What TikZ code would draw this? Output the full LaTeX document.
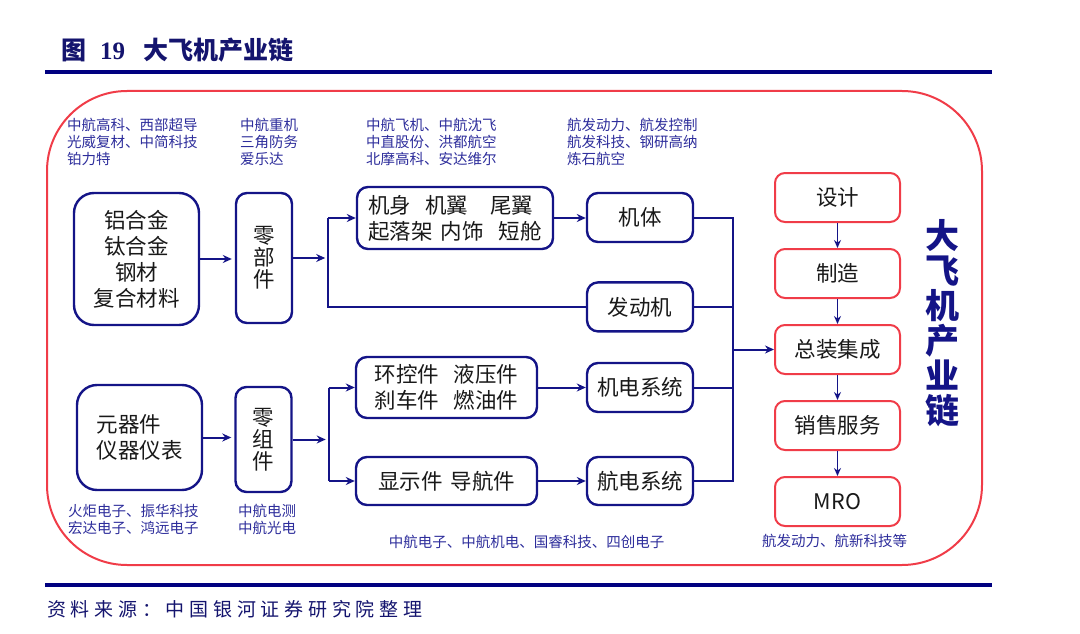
\documentclass[tikz,border=0pt]{standalone}
\usepackage{fontspec}
\setmainfont{Noto Sans CJK SC}
\newfontfamily\latinserif{Liberation Serif}
\newfontfamily\srcfont[LetterSpace=25]{Noto Sans CJK SC}
\usetikzlibrary{arrows.meta,positioning}
\definecolor{navyline}{RGB}{20,20,135}
\definecolor{rulenavy}{RGB}{0,0,128}
\definecolor{titleblue}{RGB}{20,20,110}
\definecolor{labelblue}{RGB}{45,45,155}
\definecolor{chainred}{RGB}{240,60,72}
\definecolor{boxtext}{RGB}{25,25,25}

\begin{document}
\begin{tikzpicture}[
    x=1pt, y=-1pt,
    node distance=25pt,
    bluebox/.style={
        rectangle,
        rounded corners=11pt,
        draw=navyline,
        line width=2.4pt,
        fill=white,
        align=center,
        text=boxtext,
        inner sep=0pt,
        font=\fontsize{21.5pt}{26pt}\selectfont
    },
    bigbox/.style={bluebox, rounded corners=20pt, minimum width=125pt},
    colbox/.style={bluebox, minimum width=56pt, font=\fontsize{21.5pt}{22pt}\selectfont},
    sysbox/.style={bluebox, minimum width=106pt, minimum height=49pt},
    redbox/.style={
        rectangle,
        rounded corners=10pt,
        draw=chainred,
        line width=2pt,
        fill=white,
        text=boxtext,
        minimum width=125pt,
        minimum height=49pt,
        inner sep=0pt,
        font=\fontsize{21.5pt}{26pt}\selectfont
    },
    company/.style={anchor=west, align=left, text=labelblue, inner sep=0pt,
        font=\fontsize{14.5pt}{17pt}\selectfont},
    wire/.style={draw=navyline, line width=2pt},
    arrow/.style={wire, -{Stealth[length=9pt,width=8pt]}},
    chainarrow/.style={draw=navyline, line width=1.6pt, -{Stealth[length=8pt,width=7pt]}}
]
\useasboundingbox (0,0) rectangle (1080,634);

% Header and footer
\node[anchor=west, inner sep=0pt, text=titleblue, font=\fontsize{25pt}{30pt}\selectfont\bfseries]
    (title) at (61,50) {图\hspace{14pt}{\latinserif 19}\hspace{18pt}大飞机产业链};
\draw[rulenavy, line width=4.5pt] (45,72) -- (992,72);
\draw[rulenavy, line width=4.5pt] (45,585) -- (992,585);
\node[anchor=west, inner sep=0pt, text=titleblue, font=\fontsize{19pt}{22pt}\srcfont]
    (source) at (47,609) {资料来源：中国银河证券研究院整理};

% Red frame
\draw[chainred, line width=2pt, rounded corners=80pt] (47,91) rectangle (982,565);

% Upper row: materials and structure
\node[bigbox, minimum height=132pt] (metal) at (136.5,259) {铝合金\\钛合金\\钢材\\复合材料};
\node[colbox, minimum height=130pt] (parts) at (264,258) {零\\部\\件};
\node[bluebox, minimum width=196pt, minimum height=62pt, align=left] (airframe) at (455,218)
    {机身\hspace{14pt}机翼\hspace{22pt}尾翼\\起落架\hspace{8pt}内饰\hspace{15pt}短舱};
\node[sysbox] (body) at (640,217.5) {机体};
\node[sysbox, below=38pt of body] (engine) {发动机};

% Lower row: electronics and systems
\node[bigbox, minimum height=105pt, align=left] (comp) at (139.5,437.5) {元器件\\仪器仪表};
\node[colbox, minimum height=105pt] (modules) at (263.5,439.5) {零\\组\\件};
\node[bluebox, minimum width=181pt, minimum height=61pt] (subsys) at (446.5,387.5)
    {环控件\hspace{15pt}液压件\\刹车件\hspace{15pt}燃油件};
\node[bluebox, minimum width=181pt, minimum height=48pt] (display) at (446.5,481) {显示件\hspace{8pt}导航件};
\node[sysbox] (mech) at (640,387.5) {机电系统};
\node[sysbox, minimum height=48pt] (avion) at (640,481) {航电系统};

% Right column: value chain
\node[redbox] (design) at (837.5,197.5) {设计};
\node[redbox, below=of design] (make) {制造};
\node[redbox, below=of make] (assy) {总装集成};
\node[redbox, below=of assy] (sales) {销售服务};
\node[redbox, below=of sales] (mro) {MRO};
\node[text=navyline, align=center, inner sep=0pt, font=\fontsize{34pt}{35pt}\selectfont\bfseries]
    (chain) at (942,323) {大\\飞\\机\\产\\业\\链};

% Company labels
\node[company] (suppA) at (67,142) {中航高科、西部超导\\光威复材、中简科技\\铂力特};
\node[company] (suppB) at (240,142) {中航重机\\三角防务\\爱乐达};
\node[company] (suppC) at (366,142) {中航飞机、中航沈飞\\中直股份、洪都航空\\北摩高科、安达维尔};
\node[company] (suppD) at (567,142) {航发动力、航发控制\\航发科技、钢研高纳\\炼石航空};
\node[company] (suppE) at (68,519.5) {火炬电子、振华科技\\宏达电子、鸿远电子};
\node[company] (suppF) at (238,519.5) {中航电测\\中航光电};
\node[company, anchor=center] (suppG) at (526.5,542) {中航电子、中航机电、国睿科技、四创电子};
\node[company, anchor=center] (suppH) at (834.5,541) {航发动力、航新科技等};

% Arrows
\coordinate (splitA) at ([xshift=35pt]parts.east);
\coordinate (splitB) at ([xshift=36pt]modules.east);
\coordinate (bus) at (733,0);

\draw[arrow, shorten >=3pt] (metal.east) -- (metal.east -| parts.west);
\draw[arrow, shorten >=3pt] (parts.east) -- (splitA);
\draw[wire] (splitA |- airframe.west) -- (splitA |- engine.west) -- (engine.west);
\draw[arrow] (splitA |- airframe.west) -- (airframe.west);
\draw[arrow] (airframe.east) -- (airframe.east -| body.west);

\draw[arrow, shorten >=3pt] (comp.east) -- (comp.east -| modules.west);
\draw[arrow, shorten >=3pt] (modules.east) -- (splitB);
\draw[wire] (splitB |- subsys.west) -- (splitB |- display.west);
\draw[arrow] (splitB |- subsys.west) -- (subsys.west);
\draw[arrow] (splitB |- display.west) -- (display.west);
\draw[arrow] (subsys.east) -- (mech.west);
\draw[arrow] (display.east) -- (avion.west);

\draw[wire] (body.east) -| (bus |- avion.east) -- (avion.east);
\draw[wire] (engine.east) -- (bus |- engine.east);
\draw[wire] (mech.east) -- (bus |- mech.east);
\draw[arrow] (bus |- assy.west) -- (assy.west);

\draw[chainarrow] (design) -- (make);
\draw[chainarrow] (make) -- (assy);
\draw[chainarrow] (assy) -- (sales);
\draw[chainarrow] (sales) -- (mro);

\end{tikzpicture}
\end{document}
